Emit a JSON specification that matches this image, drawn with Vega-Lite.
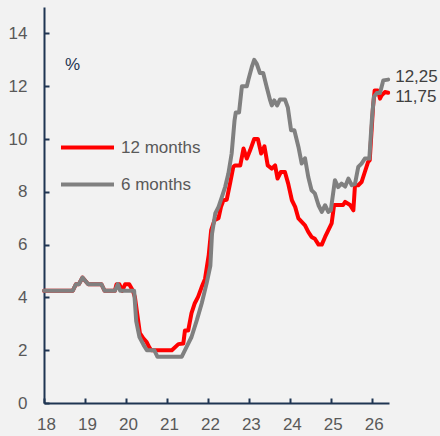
{
  "$schema": "https://vega.github.io/schema/vega-lite/v6.json",
  "width": 345,
  "height": 396,
  "autosize": "none",
  "padding": {"left": 44, "top": 7, "right": 51, "bottom": 33},
  "background": "#f2f2f2",
  "config": {
    "view": {"stroke": null},
    "font": "Liberation Sans",
    "axis": {
      "grid": false,
      "title": null,
      "labelFont": "Liberation Sans",
      "labelFontSize": 17,
      "labelColor": "#595959",
      "domainColor": "#1f3552",
      "domainWidth": 2,
      "tickColor": "#1f3552",
      "tickWidth": 2,
      "tickSize": -5,
      "labelFlush": false
    }
  },
  "data": {
    "values": [
      {"s": "12 months", "t": 18.00, "v": 4.25},
      {"s": "12 months", "t": 18.70, "v": 4.25},
      {"s": "12 months", "t": 18.78, "v": 4.5},
      {"s": "12 months", "t": 18.85, "v": 4.5},
      {"s": "12 months", "t": 18.94, "v": 4.75},
      {"s": "12 months", "t": 19.08, "v": 4.5},
      {"s": "12 months", "t": 19.40, "v": 4.5},
      {"s": "12 months", "t": 19.48, "v": 4.25},
      {"s": "12 months", "t": 19.73, "v": 4.25},
      {"s": "12 months", "t": 19.77, "v": 4.5},
      {"s": "12 months", "t": 19.84, "v": 4.5},
      {"s": "12 months", "t": 19.91, "v": 4.25},
      {"s": "12 months", "t": 19.98, "v": 4.5},
      {"s": "12 months", "t": 20.08, "v": 4.5},
      {"s": "12 months", "t": 20.17, "v": 4.25},
      {"s": "12 months", "t": 20.22, "v": 4.0},
      {"s": "12 months", "t": 20.34, "v": 2.65},
      {"s": "12 months", "t": 20.42, "v": 2.46},
      {"s": "12 months", "t": 20.50, "v": 2.32},
      {"s": "12 months", "t": 20.58, "v": 2.08},
      {"s": "12 months", "t": 20.62, "v": 2.0},
      {"s": "12 months", "t": 21.12, "v": 2.0},
      {"s": "12 months", "t": 21.28, "v": 2.23},
      {"s": "12 months", "t": 21.40, "v": 2.25},
      {"s": "12 months", "t": 21.44, "v": 2.75},
      {"s": "12 months", "t": 21.52, "v": 2.75},
      {"s": "12 months", "t": 21.60, "v": 3.4},
      {"s": "12 months", "t": 21.68, "v": 3.78},
      {"s": "12 months", "t": 21.76, "v": 4.02},
      {"s": "12 months", "t": 21.85, "v": 4.4},
      {"s": "12 months", "t": 21.93, "v": 4.7},
      {"s": "12 months", "t": 22.02, "v": 5.6},
      {"s": "12 months", "t": 22.08, "v": 6.55},
      {"s": "12 months", "t": 22.16, "v": 6.92},
      {"s": "12 months", "t": 22.26, "v": 7.0},
      {"s": "12 months", "t": 22.32, "v": 7.43},
      {"s": "12 months", "t": 22.38, "v": 7.68},
      {"s": "12 months", "t": 22.46, "v": 7.7},
      {"s": "12 months", "t": 22.54, "v": 8.31},
      {"s": "12 months", "t": 22.62, "v": 8.94},
      {"s": "12 months", "t": 22.66, "v": 9.0},
      {"s": "12 months", "t": 22.79, "v": 9.0},
      {"s": "12 months", "t": 22.87, "v": 9.64},
      {"s": "12 months", "t": 22.95, "v": 9.26},
      {"s": "12 months", "t": 23.03, "v": 9.57},
      {"s": "12 months", "t": 23.13, "v": 10.0},
      {"s": "12 months", "t": 23.22, "v": 10.0},
      {"s": "12 months", "t": 23.30, "v": 9.45},
      {"s": "12 months", "t": 23.38, "v": 9.72},
      {"s": "12 months", "t": 23.46, "v": 9.0},
      {"s": "12 months", "t": 23.56, "v": 8.88},
      {"s": "12 months", "t": 23.64, "v": 9.0},
      {"s": "12 months", "t": 23.70, "v": 8.5},
      {"s": "12 months", "t": 23.78, "v": 8.75},
      {"s": "12 months", "t": 23.88, "v": 8.75},
      {"s": "12 months", "t": 23.96, "v": 8.31},
      {"s": "12 months", "t": 24.05, "v": 7.68},
      {"s": "12 months", "t": 24.13, "v": 7.43},
      {"s": "12 months", "t": 24.21, "v": 6.99},
      {"s": "12 months", "t": 24.29, "v": 6.86},
      {"s": "12 months", "t": 24.37, "v": 6.73},
      {"s": "12 months", "t": 24.45, "v": 6.48},
      {"s": "12 months", "t": 24.53, "v": 6.29},
      {"s": "12 months", "t": 24.61, "v": 6.22},
      {"s": "12 months", "t": 24.70, "v": 6.0},
      {"s": "12 months", "t": 24.78, "v": 6.0},
      {"s": "12 months", "t": 24.86, "v": 6.29},
      {"s": "12 months", "t": 24.94, "v": 6.55},
      {"s": "12 months", "t": 25.02, "v": 6.8},
      {"s": "12 months", "t": 25.08, "v": 7.5},
      {"s": "12 months", "t": 25.30, "v": 7.5},
      {"s": "12 months", "t": 25.35, "v": 7.62},
      {"s": "12 months", "t": 25.47, "v": 7.5},
      {"s": "12 months", "t": 25.55, "v": 7.3},
      {"s": "12 months", "t": 25.59, "v": 8.25},
      {"s": "12 months", "t": 25.67, "v": 8.25},
      {"s": "12 months", "t": 25.75, "v": 8.37},
      {"s": "12 months", "t": 25.83, "v": 8.75},
      {"s": "12 months", "t": 25.91, "v": 9.13},
      {"s": "12 months", "t": 25.95, "v": 9.2},
      {"s": "12 months", "t": 26.03, "v": 11.21},
      {"s": "12 months", "t": 26.07, "v": 11.84},
      {"s": "12 months", "t": 26.15, "v": 11.84},
      {"s": "12 months", "t": 26.20, "v": 11.53},
      {"s": "12 months", "t": 26.24, "v": 11.65},
      {"s": "12 months", "t": 26.32, "v": 11.78},
      {"s": "12 months", "t": 26.40, "v": 11.75},
      {"s": "6 months", "t": 18.00, "v": 4.25},
      {"s": "6 months", "t": 18.70, "v": 4.25},
      {"s": "6 months", "t": 18.78, "v": 4.5},
      {"s": "6 months", "t": 18.85, "v": 4.5},
      {"s": "6 months", "t": 18.94, "v": 4.75},
      {"s": "6 months", "t": 19.08, "v": 4.5},
      {"s": "6 months", "t": 19.40, "v": 4.5},
      {"s": "6 months", "t": 19.48, "v": 4.25},
      {"s": "6 months", "t": 19.73, "v": 4.25},
      {"s": "6 months", "t": 19.80, "v": 4.5},
      {"s": "6 months", "t": 19.86, "v": 4.25},
      {"s": "6 months", "t": 20.20, "v": 4.25},
      {"s": "6 months", "t": 20.25, "v": 3.1},
      {"s": "6 months", "t": 20.33, "v": 2.5},
      {"s": "6 months", "t": 20.43, "v": 2.2},
      {"s": "6 months", "t": 20.51, "v": 2.0},
      {"s": "6 months", "t": 20.69, "v": 2.0},
      {"s": "6 months", "t": 20.77, "v": 1.75},
      {"s": "6 months", "t": 21.36, "v": 1.75},
      {"s": "6 months", "t": 21.48, "v": 2.13},
      {"s": "6 months", "t": 21.60, "v": 2.5},
      {"s": "6 months", "t": 21.73, "v": 3.14},
      {"s": "6 months", "t": 21.85, "v": 3.78},
      {"s": "6 months", "t": 21.97, "v": 4.54},
      {"s": "6 months", "t": 22.06, "v": 5.2},
      {"s": "6 months", "t": 22.10, "v": 6.4},
      {"s": "6 months", "t": 22.18, "v": 7.18},
      {"s": "6 months", "t": 22.26, "v": 7.43},
      {"s": "6 months", "t": 22.34, "v": 7.8},
      {"s": "6 months", "t": 22.42, "v": 8.18},
      {"s": "6 months", "t": 22.50, "v": 8.69},
      {"s": "6 months", "t": 22.58, "v": 9.45},
      {"s": "6 months", "t": 22.65, "v": 10.7},
      {"s": "6 months", "t": 22.68, "v": 11.0},
      {"s": "6 months", "t": 22.76, "v": 11.0},
      {"s": "6 months", "t": 22.83, "v": 12.0},
      {"s": "6 months", "t": 22.95, "v": 12.0},
      {"s": "6 months", "t": 22.99, "v": 12.25},
      {"s": "6 months", "t": 23.07, "v": 12.72},
      {"s": "6 months", "t": 23.13, "v": 13.0},
      {"s": "6 months", "t": 23.19, "v": 12.86},
      {"s": "6 months", "t": 23.27, "v": 12.5},
      {"s": "6 months", "t": 23.35, "v": 12.5},
      {"s": "6 months", "t": 23.43, "v": 12.0},
      {"s": "6 months", "t": 23.52, "v": 11.46},
      {"s": "6 months", "t": 23.56, "v": 11.27},
      {"s": "6 months", "t": 23.62, "v": 11.46},
      {"s": "6 months", "t": 23.69, "v": 11.27},
      {"s": "6 months", "t": 23.76, "v": 11.5},
      {"s": "6 months", "t": 23.88, "v": 11.5},
      {"s": "6 months", "t": 23.95, "v": 11.2},
      {"s": "6 months", "t": 24.03, "v": 10.33},
      {"s": "6 months", "t": 24.11, "v": 10.33},
      {"s": "6 months", "t": 24.21, "v": 9.7},
      {"s": "6 months", "t": 24.29, "v": 9.07},
      {"s": "6 months", "t": 24.37, "v": 9.27},
      {"s": "6 months", "t": 24.45, "v": 8.56},
      {"s": "6 months", "t": 24.53, "v": 8.06},
      {"s": "6 months", "t": 24.61, "v": 7.94},
      {"s": "6 months", "t": 24.70, "v": 7.49},
      {"s": "6 months", "t": 24.78, "v": 7.24},
      {"s": "6 months", "t": 24.86, "v": 7.49},
      {"s": "6 months", "t": 24.94, "v": 7.24},
      {"s": "6 months", "t": 25.00, "v": 7.3},
      {"s": "6 months", "t": 25.10, "v": 8.44},
      {"s": "6 months", "t": 25.18, "v": 8.18},
      {"s": "6 months", "t": 25.26, "v": 8.31},
      {"s": "6 months", "t": 25.35, "v": 8.2},
      {"s": "6 months", "t": 25.43, "v": 8.5},
      {"s": "6 months", "t": 25.51, "v": 8.25},
      {"s": "6 months", "t": 25.59, "v": 8.3},
      {"s": "6 months", "t": 25.67, "v": 8.94},
      {"s": "6 months", "t": 25.75, "v": 9.07},
      {"s": "6 months", "t": 25.83, "v": 9.26},
      {"s": "6 months", "t": 25.94, "v": 9.26},
      {"s": "6 months", "t": 26.00, "v": 10.7},
      {"s": "6 months", "t": 26.05, "v": 11.59},
      {"s": "6 months", "t": 26.12, "v": 11.74},
      {"s": "6 months", "t": 26.20, "v": 11.74},
      {"s": "6 months", "t": 26.28, "v": 12.22},
      {"s": "6 months", "t": 26.40, "v": 12.25}
    ]
  },
  "encoding": {
    "x": {
      "field": "t", "type": "quantitative",
      "scale": {"domain": [18, 26.42], "nice": false, "zero": false},
      "axis": {"values": [18, 19, 20, 21, 22, 23, 24, 25, 26], "format": "d", "labelPadding": 18, "labelOffset": 2}
    },
    "y": {
      "field": "v", "type": "quantitative",
      "scale": {"domain": [0, 15], "nice": false},
      "axis": {"values": [0, 2, 4, 6, 8, 10, 12, 14], "format": "d", "labelPadding": 22}
    }
  },
  "layer": [
    {
      "mark": {"type": "line", "strokeWidth": 4, "strokeJoin": "round", "strokeCap": "round"},
      "encoding": {
        "color": {
          "field": "s", "type": "nominal",
          "scale": {"domain": ["12 months", "6 months"], "range": ["#ff0000", "#808080"]},
          "legend": {
            "title": null,
            "orient": "none",
            "legendX": 15,
            "legendY": 112,
            "padding": 0,
            "symbolType": "stroke",
            "symbolSize": 2809,
            "symbolStrokeWidth": 4,
            "labelFontSize": 17,
            "labelFont": "Liberation Sans",
            "labelColor": "#595959",
            "labelOffset": 5,
            "rowPadding": -21
          }
        }
      }
    },
    {
      "data": {"values": [{"t": 26.40, "v": 12.25, "label": "12,25"}]},
      "mark": {"type": "text", "align": "left", "baseline": "middle", "dx": 7, "dy": -3, "fontSize": 17, "color": "#404040", "font": "Liberation Sans"},
      "encoding": {"text": {"field": "label"}}
    },
    {
      "data": {"values": [{"t": 26.40, "v": 11.75, "label": "11,75"}]},
      "mark": {"type": "text", "align": "left", "baseline": "middle", "dx": 7, "dy": 4, "fontSize": 17, "color": "#404040", "font": "Liberation Sans"},
      "encoding": {"text": {"field": "label"}}
    },
    {
      "data": {"values": [{"t": 18.7, "v": 12.8, "label": "%"}]},
      "mark": {"type": "text", "align": "center", "baseline": "middle", "fontSize": 17, "color": "#1f3552", "font": "Liberation Sans"},
      "encoding": {"text": {"field": "label"}}
    }
  ]
}
